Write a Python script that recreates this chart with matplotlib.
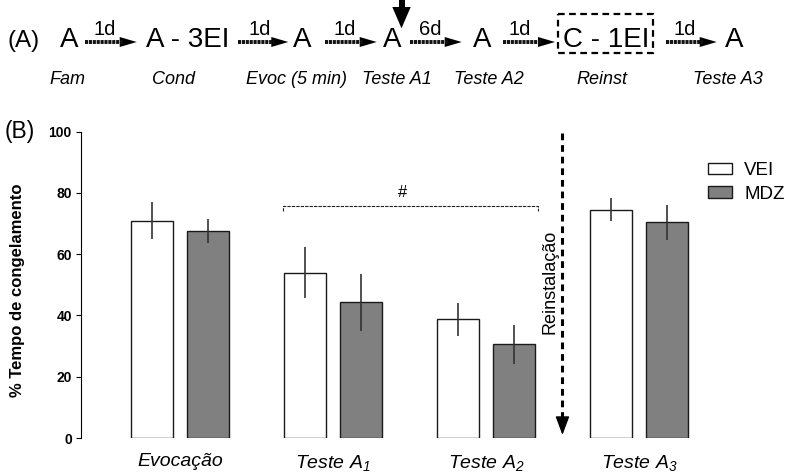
import matplotlib
matplotlib.use("Agg")
import matplotlib.pyplot as plt
from matplotlib.patches import Polygon, Rectangle
import numpy as np

plt.rcParams['font.family'] = ['Liberation Sans', 'DejaVu Sans']
plt.rcParams['mathtext.fontset'] = 'custom'
plt.rcParams['mathtext.rm'] = 'Liberation Sans:italic'
plt.rcParams['mathtext.it'] = 'Liberation Sans:italic'

# ---------------- data ----------------
categories = ['Evocação', 'Teste $A_1$', 'Teste $A_2$', 'Teste $A_3$']
vei_mean = [71.0, 54.0, 38.7, 74.6]
vei_err = [6.0, 8.4, 5.3, 3.6]
mdz_mean = [67.5, 44.3, 30.6, 70.4]
mdz_err = [4.0, 9.4, 6.3, 5.8]
series_names = ['VEI', 'MDZ']
y_ticks = [0, 20, 40, 60, 80, 100]

timeline_nodes = ['A', 'A - 3EI', 'A', 'A', 'A', 'C - 1EI', 'A']
timeline_gaps = ['1d', '1d', '1d', '6d', '1d', '1d']
timeline_labels = ['Fam', 'Cond', 'Evoc (5 min)', 'Teste A1', 'Teste A2', 'Reinst', 'Teste A3']

# ---------------- figure ----------------
W, H = 785, 473
fig = plt.figure(figsize=(W / 100, H / 100), dpi=100)

ax = fig.add_axes([81 / W, 35 / H, (700 - 81) / W, 306.3 / H])
x = np.arange(len(categories))
off, bw = 0.183, 0.275
b1 = ax.bar(x - off, vei_mean, bw, color='white', edgecolor='#1a1a1a', lw=1.0, label=series_names[0], zorder=2)
b2 = ax.bar(x + off, mdz_mean, bw, color='#808080', edgecolor='#1a1a1a', lw=1.0, label=series_names[1], zorder=2)
ax.errorbar(x - off, vei_mean, yerr=vei_err, fmt='none', ecolor='#333333', elinewidth=1.2, capsize=0, zorder=3)
ax.errorbar(x + off, mdz_mean, yerr=mdz_err, fmt='none', ecolor='#333333', elinewidth=1.2, capsize=0, zorder=3)

ax.set_xlim(-0.647, 3.399)
ax.set_ylim(0, 100)
ax.set_yticks(y_ticks)
ax.set_yticklabels([str(t) for t in y_ticks], fontsize=10, fontweight='bold')
ax.tick_params(axis='y', length=3.6, width=0.8, pad=3.0)
ax.set_xticks(x)
ax.set_xticklabels(categories, fontsize=14, fontstyle='italic')
ax.tick_params(axis='x', length=0, pad=10.5)
for s in ['top', 'right', 'bottom']:
    ax.spines[s].set_visible(False)
ax.spines['left'].set_linewidth(0.8)
ax.set_ylabel('% Tempo de congelamento', fontsize=12, fontweight='bold')
ax.yaxis.set_label_coords(-0.0905, 0.484)

# significance bracket
ax.plot([0.671, 0.671, 2.338, 2.338], [74, 75.7, 75.7, 74], color='#222222', lw=0.8,
        linestyle=(0, (3, 1)), zorder=2)
ax.text(1.457, 80, '#', fontsize=12, ha='center', va='center')

# reinstatement arrow
ax.plot([2.5, 2.5], [99.5, 6.5], color='black', lw=2.2, dashes=(2.2, 1.6), zorder=2)
ax.annotate('', xy=(2.5, 1.0), xytext=(2.5, 6.6),
            arrowprops=dict(arrowstyle='-|>,head_length=1.15,head_width=0.43', color='black',
                            lw=1, shrinkA=0, shrinkB=0))
ax.text(2.418, 50.9, 'Reinstalação', rotation=90, fontsize=13, ha='center', va='center')

leg = ax.legend(handles=[b1, b2], loc='upper left', bbox_to_anchor=(708 / W, 1 - 162 / H),
                bbox_transform=fig.transFigure, frameon=False, fontsize=13.5,
                borderpad=0, borderaxespad=0, handlelength=1.28, handleheight=0.58,
                handletextpad=0.66, labelspacing=0.35)

# ---------------- overlay for the protocol timeline ----------------
ov = fig.add_axes([0, 0, 1, 1])
ov.set_xlim(0, W)
ov.set_ylim(H, 0)
ov.axis('off')

ov.text(23.7, 46.7, '(A)', fontsize=17.5, ha='center', va='baseline')
ov.text(20, 138, '(B)', fontsize=16.5, ha='center', va='baseline')

node_x = [69.5, 188, 301.7, 391.7, 481.7, 606, 734]
for nx, t in zip(node_x, timeline_nodes):
    ov.text(nx, 46.7, t, fontsize=20, ha='center', va='baseline')

arrows = [(85, 136.7), (238.3, 288.3), (325, 376.7), (410, 461.7), (503.3, 555), (665.7, 716.7)]
gap_x = [105, 260, 345, 430, 520, 685]
ay = 42
for (a0, a1), gx, g in zip(arrows, gap_x, timeline_gaps):
    ov.plot([a0, a1 - 14], [ay, ay], color='#111111', lw=2.8, dashes=(0.8, 0.2),
            solid_capstyle='butt', dash_capstyle='butt')
    ov.add_patch(Polygon([(a1 - 17, ay - 5), (a1, ay), (a1 - 17, ay + 5)], closed=True,
                         color='black', lw=0))
    ov.text(gx, 35, g, fontsize=14.5, ha='center', va='baseline')

# dashed box around reinstatement
ov.add_patch(Rectangle((557.7, 14), 95, 39.3, fill=False, edgecolor='black', lw=1.6,
                       linestyle=(0, (3, 2))))

# down arrow over Teste A1
ov.add_patch(Rectangle((398.5, 0), 6, 8, color='black', lw=0))
ov.add_patch(Polygon([(392.3, 7), (410.7, 7), (401.5, 28.3)], closed=True, color='black', lw=0))

label_x = [67.5, 173.8, 296.7, 397, 489, 601.7, 727.5]
for lx, t in zip(label_x, timeline_labels):
    ov.text(lx, 84, t, fontsize=13, fontstyle='italic', ha='center', va='baseline')

fig.savefig('out.png', dpi=100)
